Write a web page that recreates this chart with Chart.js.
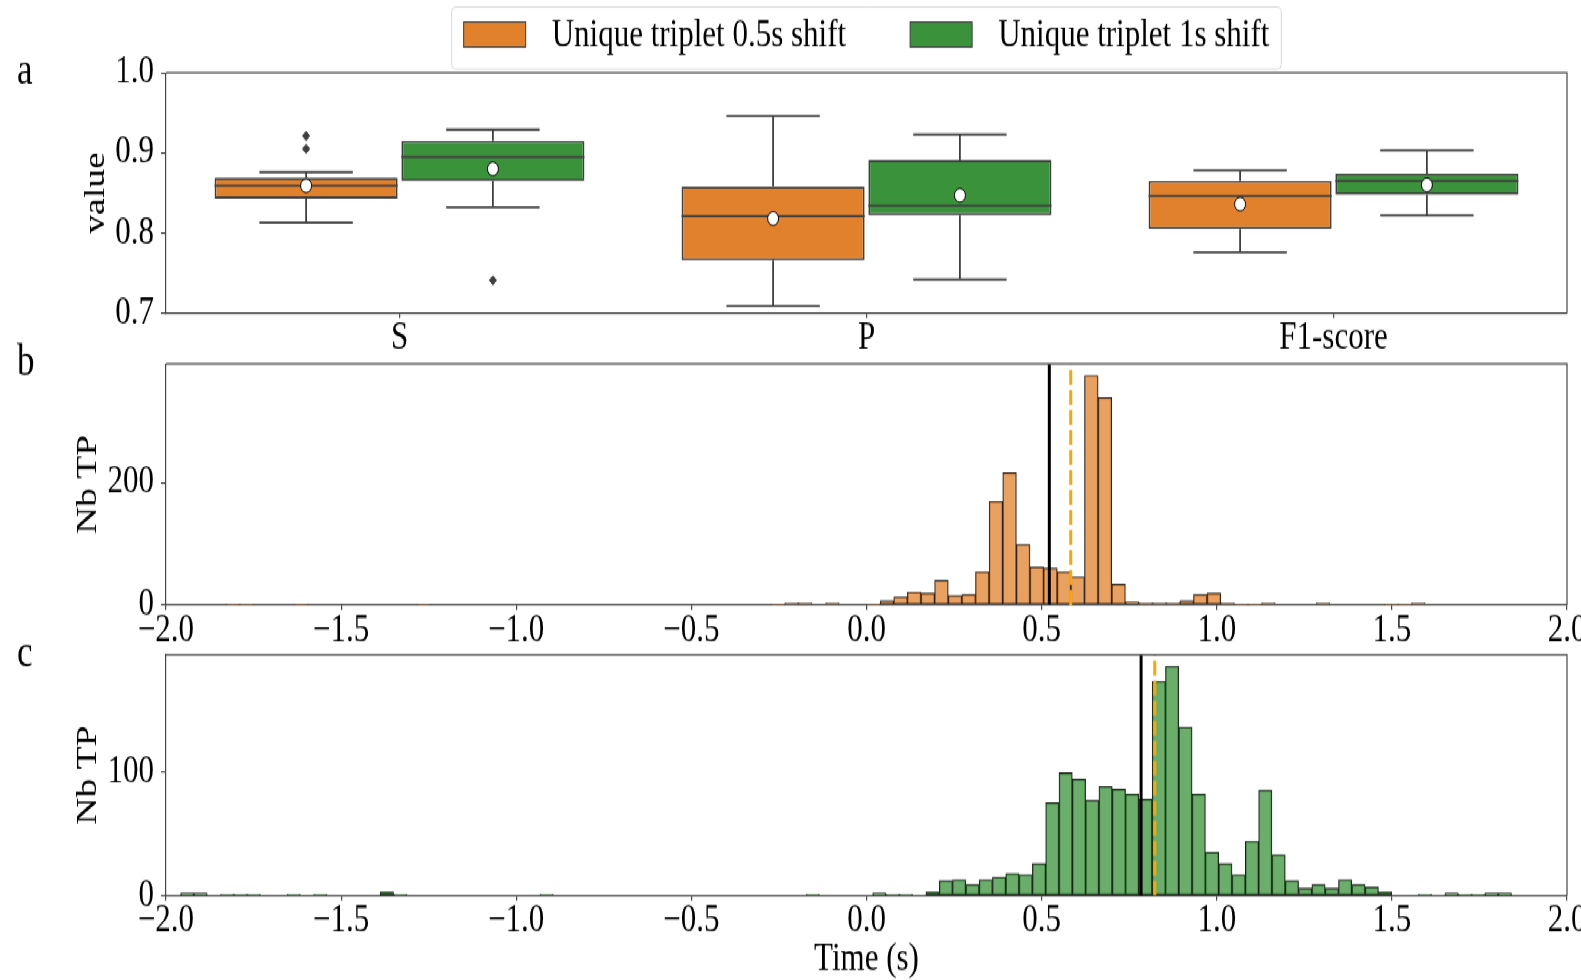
<!DOCTYPE html>
<html>
<head>
    <title>Unique triplet shift</title>
    <script src="https://cdn.jsdelivr.net/npm/chart.js"></script>
    <style>
        body { margin: 0; background: #fff; overflow: hidden; }
        #fig { position: absolute; left: 0; top: 0; width: 1581px; height: 784px; transform: scaleY(1.25); transform-origin: 0 0; }
        #fig canvas { position: absolute; left: 0; }
    </style>
</head>
<body>
<div id="fig">
    <canvas id="chartA" width="1581" height="290" style="top:0px"></canvas>
    <canvas id="chartB" width="1581" height="258" style="top:262px"></canvas>
    <canvas id="chartC" width="1581" height="284" style="top:500px"></canvas>
</div>

<script>
    // panel a - box plots
    const groups = ['S', 'P', 'F1-score'];
    const seriesNames = ['Unique triplet 0.5s shift', 'Unique triplet 1s shift'];

    const halfLow = [0.813, 0.709, 0.776];
    const halfQ1 = [0.843, 0.766, 0.805];
    const halfMedian = [0.859, 0.821, 0.846];
    const halfQ3 = [0.869, 0.858, 0.865];
    const halfHigh = [0.876, 0.946, 0.878];
    const halfMean = [0.859, 0.818, 0.836];
    const halfOutliers = [[0.905, 0.921], [], []];

    const oneLow = [0.832, 0.742, 0.822];
    const oneQ1 = [0.865, 0.822, 0.848];
    const oneMedian = [0.895, 0.834, 0.865];
    const oneQ3 = [0.915, 0.891, 0.874];
    const oneHigh = [0.929, 0.923, 0.903];
    const oneMean = [0.880, 0.847, 0.860];
    const oneOutliers = [[0.741], [], []];

    const valueTicks = [0.7, 0.8, 0.9, 1.0];

    // panels b and c - histograms of time (s)
    const timeTicks = [-2, -1.5, -1, -0.5, 0, 0.5, 1, 1.5, 2];

    const binStartB = -1.8283, binWidthB = 0.0389;
    const countsB = [1, 1, 0, 0, 0, 1, 0, 0, 0, 0, 0, 0, 0, 0, 1,
        0, 0, 0, 0, 0, 0, 0, 0, 0, 0, 0, 0, 0, 0, 0, 0, 0, 0, 0, 0, 0, 0, 0, 0, 0,
        1, 3, 3, 0, 3, 0, 0,
        1, 7, 13, 21, 19, 40, 15, 17, 54, 169, 216, 99, 62, 60, 54, 46, 375, 339, 34, 5,
        3, 3, 3, 7, 17, 19, 3, 1, 1, 3, 0, 0, 0, 3, 0, 0, 0, 0, 1, 1, 3];
    const countTicksB = [0, 200];
    const countMaxB = 394;
    const solidLineB = 0.522, dashLineB = 0.583;

    const binStartC = -1.9584, binWidthC = 0.038;
    const countsC = [2, 2, 0, 1, 1, 1, 0, 0, 1, 0, 1, 0, 0, 0, 0, 3, 1,
        0, 0, 0, 0, 0, 0, 0, 0, 0, 0, 1,
        0, 0, 0, 0, 0, 0, 0, 0, 0, 0, 0, 0, 0, 0, 0, 0, 0, 0, 0, 1,
        0, 0, 0, 0, 2, 1, 1, 0,
        3, 12, 13, 9, 13, 15, 18, 17, 26, 75, 99, 94, 77, 88, 86, 82, 78, 173, 185, 136,
        82, 35, 26, 17, 44, 85, 33, 12, 6, 9, 6, 13, 9, 7, 3, 0, 0, 1, 0, 2, 1, 1, 2, 2];
    const countTicksC = [0, 100];
    const countMaxC = 194.4;
    const solidLineC = 0.784, dashLineC = 0.823;

    // styles
    const serif = "'Liberation Serif', 'Times New Roman', Times, serif";
    const orangeBox = '#e1812c', greenBox = '#3a923a', boxEdge = '#3f3f3f';
    const orangeHist = 'rgba(225,129,44,0.75)', greenHist = 'rgba(58,146,58,0.75)';
    const axisColor = '#444';
    const hueShift = 0.2;

    Chart.defaults.font.family = serif;
    Chart.defaults.font.size = 31;
    Chart.defaults.color = '#000';

    const framePlugin = {
        id: 'frame',
        afterDatasetsDraw(chart) {
            const {ctx, chartArea: {left, top, right, bottom}} = chart;
            ctx.save();
            ctx.strokeStyle = axisColor;
            ctx.lineWidth = 1.2;
            ctx.beginPath();
            ctx.moveTo(left, top);
            ctx.lineTo(right, top);
            ctx.lineTo(right, bottom);
            ctx.stroke();
            ctx.restore();
        }
    };

    const panelLabel = {
        id: 'panelLabel',
        afterDraw(chart, args, opts) {
            const {ctx, chartArea} = chart;
            ctx.save();
            ctx.font = '35px ' + serif;
            ctx.fillStyle = '#000';
            ctx.textBaseline = 'alphabetic';
            ctx.fillText(opts.text, 17, chartArea.top + 9);
            ctx.restore();
        }
    };

    const boxLegend = {
        id: 'boxLegend',
        afterDraw(chart) {
            const {ctx, chartArea} = chart;
            const items = chart.data.datasets.filter(d => d.label);
            const sw = 62, sh = 20, textGap = 26, itemGap = 64, pad = 12;
            ctx.save();
            ctx.font = '31px ' + serif;
            const widths = items.map(d => sw + textGap + ctx.measureText(d.label).width);
            const total = widths.reduce((a, b) => a + b, 0) + itemGap * (items.length - 1);
            let x = (chartArea.left + chartArea.right) / 2 - total / 2;
            const cy = chartArea.top - 30.6;

            ctx.fillStyle = 'rgba(255,255,255,0.85)';
            ctx.strokeStyle = '#d9d9d9';
            ctx.lineWidth = 1;
            ctx.beginPath();
            if (ctx.roundRect) ctx.roundRect(x - pad, chartArea.top - 52.6, total + 2 * pad, 49.6, 4);
            else ctx.rect(x - pad, chartArea.top - 52.6, total + 2 * pad, 49.6);
            ctx.fill();
            ctx.stroke();

            items.forEach((d, i) => {
                ctx.fillStyle = d.backgroundColor;
                ctx.fillRect(x, cy - sh / 2, sw, sh);
                ctx.strokeStyle = d.borderColor;
                ctx.lineWidth = 1;
                ctx.strokeRect(x, cy - sh / 2, sw, sh);
                ctx.fillStyle = '#000';
                ctx.textBaseline = 'middle';
                ctx.fillText(d.label, x + sw + textGap, cy + 1.2);
                x += widths[i] + itemGap;
            });
            ctx.restore();
        }
    };

    // whiskers, caps and medians as broken line segments on a linear copy of the category axis
    const capHalf = 0.1, boxHalf = 0.196;
    function whiskerPoints(lo, q1, med, q3, hi, dx) {
        const pts = [];
        const seg = (x1, y1, x2, y2) => pts.push({x: x1, y: y1}, {x: x2, y: y2}, {x: x2, y: null});
        groups.forEach((g, i) => {
            const c = i + dx;
            seg(c - capHalf, lo[i], c + capHalf, lo[i]);
            seg(c, lo[i], c, q1[i]);
            seg(c, q3[i], c, hi[i]);
            seg(c - capHalf, hi[i], c + capHalf, hi[i]);
            seg(c - boxHalf, med[i], c + boxHalf, med[i]);
        });
        return pts;
    }

    const meanPoints = groups.map((g, i) => ({x: i - hueShift, y: halfMean[i]}))
        .concat(groups.map((g, i) => ({x: i + hueShift, y: oneMean[i]})));
    const outlierPoints = [];
    groups.forEach((g, i) => {
        halfOutliers[i].forEach(v => outlierPoints.push({x: i - hueShift, y: v}));
        oneOutliers[i].forEach(v => outlierPoints.push({x: i + hueShift, y: v}));
    });

    function yAxis(min, max, ticks, title, titlePad, fmt) {
        return {
            min: min, max: max,
            afterBuildTicks: s => { s.ticks = ticks.map(v => ({value: v})); },
            afterFit: s => { s.width = 166; s.paddingTop = 0; s.paddingBottom = 0; },
            ticks: {callback: fmt, padding: 7, font: {size: 31, lineHeight: 1}},
            grid: {drawOnChartArea: false, tickLength: 5, color: axisColor, lineWidth: 1.2},
            border: {color: axisColor, width: 1.2},
            title: {display: true, text: title, font: {size: 30}, padding: {top: titlePad, bottom: 0}}
        };
    }

    function timeAxis(height, withTitle) {
        return {
            type: 'linear', min: -2, max: 2, offset: false,
            afterBuildTicks: s => { s.ticks = timeTicks.map(v => ({value: v})); },
            afterFit: s => { s.height = height; s.paddingLeft = 0; s.paddingRight = 0; },
            ticks: {
                callback: v => (v < 0 ? '\u2212' : '') + Math.abs(v).toFixed(1),
                padding: 1, autoSkip: false, maxRotation: 0, font: {size: 31, lineHeight: 1}
            },
            grid: {drawOnChartArea: false, offset: false, tickLength: 4, color: axisColor, lineWidth: 1.2},
            border: {color: axisColor, width: 1.2},
            title: {display: withTitle, text: 'Time (s)', font: {size: 31, lineHeight: 1}, padding: {top: 0, bottom: 0.5}}
        };
    }

    new Chart(document.getElementById('chartA'), {
        type: 'bar',
        data: {
            labels: groups,
            datasets: [
                {
                    label: seriesNames[0], xAxisID: 'xl',
                    data: groups.map((g, i) => ({x: i - hueShift, y: [halfQ1[i], halfQ3[i]]})),
                    backgroundColor: orangeBox, borderColor: boxEdge, borderWidth: 1.8,
                    borderSkipped: false, grouped: false, categoryPercentage: 1, barPercentage: 0.98, order: 3
                },
                {
                    label: seriesNames[1], xAxisID: 'xl',
                    data: groups.map((g, i) => ({x: i + hueShift, y: [oneQ1[i], oneQ3[i]]})),
                    backgroundColor: greenBox, borderColor: boxEdge, borderWidth: 1.8,
                    borderSkipped: false, grouped: false, categoryPercentage: 1, barPercentage: 0.98, order: 3
                },
                {
                    type: 'line', xAxisID: 'xl',
                    data: whiskerPoints(halfLow, halfQ1, halfMedian, halfQ3, halfHigh, -hueShift),
                    borderColor: boxEdge, borderWidth: 1.8, pointRadius: 0, spanGaps: false, order: 2
                },
                {
                    type: 'line', xAxisID: 'xl',
                    data: whiskerPoints(oneLow, oneQ1, oneMedian, oneQ3, oneHigh, hueShift),
                    borderColor: boxEdge, borderWidth: 1.8, pointRadius: 0, spanGaps: false, order: 2
                },
                {
                    type: 'scatter', xAxisID: 'xl', data: meanPoints,
                    pointStyle: 'circle', pointRadius: 5.5,
                    backgroundColor: '#fff', borderColor: '#000', borderWidth: 1, order: 1
                },
                {
                    type: 'scatter', xAxisID: 'xl', data: outlierPoints,
                    pointStyle: 'rectRot', pointRadius: 3.6,
                    backgroundColor: boxEdge, borderColor: boxEdge, borderWidth: 1, order: 1
                }
            ]
        },
        options: {
            responsive: false, animation: false, events: [],
            layout: {padding: {top: 58.2, left: 0, right: 14, bottom: 0}},
            plugins: {legend: {display: false}, tooltip: {enabled: false}, panelLabel: {text: 'a'}},
            scales: {
                x: {
                    type: 'category', offset: true,
                    afterFit: s => { s.height = 39.4; s.paddingLeft = 0; s.paddingRight = 0; },
                    ticks: {padding: 1, font: {size: 31, lineHeight: 1}},
                    grid: {drawOnChartArea: false, offset: false, tickLength: 4, color: axisColor, lineWidth: 1.2},
                    border: {color: axisColor, width: 1.2}
                },
                xl: {
                    type: 'linear', display: false, min: -0.5, max: 2.5, offset: false,
                    afterBuildTicks: s => { s.ticks = groups.map((g, i) => ({value: i})); }
                },
                y: yAxis(0.7, 1.0, valueTicks, 'value', 78, v => v.toFixed(1))
            }
        },
        plugins: [framePlugin, panelLabel, boxLegend]
    });

    function histChart(id, counts, start, width, fill, ticks, yMax, solidX, dashX, label, padTop, axisHeight, withTitle) {
        new Chart(document.getElementById(id), {
            type: 'bar',
            data: {
                datasets: [
                    {
                        data: counts.map((c, i) => ({x: start + (i + 0.5) * width, y: c})),
                        backgroundColor: fill, borderColor: '#1a1a1a', borderWidth: 0.9,
                        borderSkipped: false, barPercentage: 1, categoryPercentage: 1, order: 3
                    },
                    {
                        type: 'line', data: [{x: solidX, y: 0}, {x: solidX, y: yMax}],
                        borderColor: '#000', borderWidth: 3, pointRadius: 0, order: 2
                    },
                    {
                        type: 'line', data: [{x: dashX, y: 0}, {x: dashX, y: yMax}],
                        borderColor: '#ffa500', borderWidth: 3, borderDash: [12, 4], pointRadius: 0, order: 1
                    }
                ]
            },
            options: {
                responsive: false, animation: false, events: [],
                layout: {padding: {top: padTop, left: 0, right: 14, bottom: 0}},
                plugins: {legend: {display: false}, tooltip: {enabled: false}, panelLabel: {text: label}},
                scales: {
                    x: timeAxis(axisHeight, withTitle),
                    y: yAxis(0, yMax, ticks, 'Nb TP', 70, v => String(v))
                }
            },
            plugins: [framePlugin, panelLabel]
        });
    }

    histChart('chartB', countsB, binStartB, binWidthB, orangeHist, countTicksB, countMaxB,
        solidLineB, dashLineB, 'b', 29.2, 36, false);
    histChart('chartC', countsC, binStartC, binWidthC, greenHist, countTicksC, countMaxC,
        solidLineC, dashLineC, 'c', 23.8, 67.4, true);
</script>
</body>
</html>
